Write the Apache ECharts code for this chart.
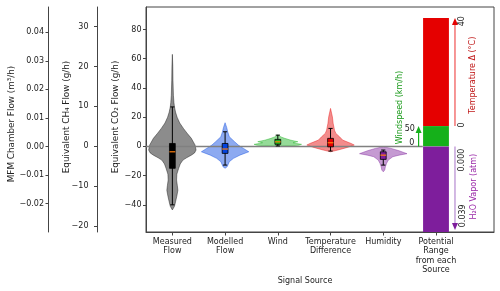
<!DOCTYPE html>
<html>
<head>
<meta charset="utf-8">
<script src="https://cdn.jsdelivr.net/npm/echarts@6.0.0/dist/echarts.min.js"></script>
<style>html,body{margin:0;padding:0;background:#fff}#c{width:500px;height:291px}</style>
</head>
<body>
<div id="c"></div>
<script>
// ---------- data ----------
const categories = ['Measured\nFlow', 'Modelled\nFlow', 'Wind', 'Temperature\nDifference', 'Humidity', 'Potential\nRange\nfrom each\nSource'];
const co2Ticks = [-40, -20, 0, 20, 40, 60, 80];
const ch4Ticks = [-20, -10, 0, 10, 20, 30];
const mfmTicks = [-0.02, -0.01, 0, 0.01, 0.02, 0.03, 0.04];

// violin profiles: [CO2 value (g/h), half width (category units)]
const measuredViolin = [[63, 0], [55, 0.008], [45, 0.012], [35, 0.02], [30, 0.03], [27, 0.04], [23.5, 0.06], [20, 0.09], [16, 0.14], [12.3, 0.21], [9, 0.28], [5.5, 0.36], [1, 0.43], [-2.5, 0.45], [-4.5, 0.42], [-6, 0.36], [-7.8, 0.27], [-9.4, 0.2], [-12, 0.15], [-15, 0.12], [-19, 0.085], [-23, 0.08], [-27, 0.095], [-30, 0.105], [-34, 0.085], [-38, 0.06], [-41, 0.04], [-43.5, 0]];
const modelledViolin = [[16.2, 0], [13, 0.03], [10, 0.05], [6.6, 0.08], [3.2, 0.18], [0.9, 0.25], [-1.4, 0.35], [-3.7, 0.45], [-6, 0.28], [-8.2, 0.16], [-10.5, 0.08], [-13.9, 0.04], [-15, 0]];
const windViolin = [[7.9, 0], [6.5, 0.06], [5.5, 0.13], [4.2, 0.25], [3.2, 0.38], [2.5, 0.29], [2, 0.35], [1.4, 0.45], [0.8, 0.4], [0.3, 0.2], [0.1, 0]];
const tempViolin = [[26, 0], [20.2, 0.035], [15.7, 0.05], [11.1, 0.075], [8.9, 0.1], [6.6, 0.17], [4.3, 0.23], [2, 0.39], [0.9, 0.45], [-0.7, 0.32], [-2.5, 0.14], [-3.7, 0]];
const humidityViolin = [[-0.2, 0], [-1.4, 0.15], [-3, 0.3], [-5, 0.45], [-6, 0.3], [-7.1, 0.18], [-9.4, 0.095], [-11.6, 0.063], [-14, 0.04], [-16.2, 0.028], [-17.4, 0]];
const violins = [measuredViolin, modelledViolin, windViolin, tempViolin, humidityViolin];

// box statistics
const boxLow = [-40, -12.8, 0.3, -3.2, -12.8];
const boxQ1 = [-15, -4.8, 1.4, -0.3, -8.9];
const boxMedian = [-3.7, -1.8, 3.1, 2.5, -6];
const boxQ3 = [2.0, 2.0, 4.8, 5.5, -3.7];
const boxHigh = [27, 10, 7.7, 12.3, -2.5];

const seriesColors = ['#000000', '#0343df', '#15b01a', '#e50000', '#7e1e9c'];

// potential range column (wind, temperature, humidity)
const rangeLow = [0, 13.9, -60];
const rangeHigh = [13.9, 87.9, 0];
const rangeColors = ['#15b01a', '#e50000', '#7e1e9c'];

// arrows
const arrowX = [4.67, 5.36, 5.36];
const arrowFrom = [0, 13.9, 0];
const arrowTo = [13.9, 87.9, -57.2];
const arrowLineColors = ['#15b01a', '#f05050', '#b58ad0'];
const arrowHeadColors = ['#15b01a', '#e50000', '#7e1e9c'];

// annotation texts
const annotText = ['40', '0', 'Temperature Δ (°C)', '50', '0', 'Windspeed (km/h)', '0.000', '0.039', 'H₂O Vapor (atm)'];
const annotX = [5.49, 5.49, 5.70, 4.60, 4.59, 4.32, 5.49, 5.51, 5.72];
const annotY = [85.7, 14.6, 48.7, 11.8, 2.6, 26.6, -9.4, -47.5, -27.6];
const annotRot = [1, 1, 1, 0, 0, 1, 1, 1, 1];
const annotColors = ['#222', '#222', '#c01818', '#222', '#222', '#1a9a1a', '#222', '#222', '#9a28a8'];

const zeroLine = [[-0.5, 0], [4.75, 0]];

// ---------- chart ----------
const FONT = 'DejaVu Sans';
const AX = '#444';
const minus = v => String(v).replace('-', '\u2212');

const chart = echarts.init(document.getElementById('c'));

function yAx(min, max, ticks, offset, margin, fmt) {
  return {
    type: 'value', min: min, max: max, position: 'left', offset: offset,
    axisLine: { show: true, onZero: false, lineStyle: { color: AX, width: 1 } },
    axisTick: { show: true, customValues: ticks, length: 3, lineStyle: { color: AX } },
    axisLabel: { customValues: ticks, formatter: fmt, fontSize: 8, fontFamily: FONT, color: '#222', margin: margin },
    splitLine: { show: false }
  };
}

const option = {
  animation: false,
  grid: { left: 146, right: 6, top: 7, bottom: 59, show: true, borderColor: AX, borderWidth: 1 },
  xAxis: {
    type: 'value', min: -0.5, max: 6.1,
    axisLine: { show: true, onZero: false, lineStyle: { color: AX } },
    splitLine: { show: false },
    axisTick: { show: true, customValues: [0, 1, 2, 3, 4, 5], length: 3.5, lineStyle: { color: AX } },
    axisLabel: { customValues: [0, 1, 2, 3, 4, 5], formatter: v => categories[Math.round(v)], fontSize: 8, lineHeight: 9.5, fontFamily: FONT, color: '#222', margin: 5 }
  },
  yAxis: [
    yAx(-58.6, 95.4, co2Ticks, 0, 4.5, v => minus(v)),
    yAx(-21.5, 34.9, ch4Ticks, 49, 8.5, v => minus(v)),
    yAx(-0.0300, 0.0489, mfmTicks, 97.5, 4.5, v => minus(v.toFixed(2)))
  ],
  graphic: [
    { type: 'text', x: 12, y: 124, rotation: Math.PI / 2, style: { text: 'MFM Chamber Flow (m³/h)', font: '8.8px ' + FONT, fill: '#222', align: 'center', verticalAlign: 'middle' } },
    { type: 'text', x: 67, y: 117, rotation: Math.PI / 2, style: { text: 'Equivalent CH₄ Flow (g/h)', font: '8.8px ' + FONT, fill: '#222', align: 'center', verticalAlign: 'middle' } },
    { type: 'text', x: 116, y: 117, rotation: Math.PI / 2, style: { text: 'Equivalent CO₂ Flow (g/h)', font: '8.8px ' + FONT, fill: '#222', align: 'center', verticalAlign: 'middle' } },
    { type: 'text', x: 305, y: 281, style: { text: 'Signal Source', font: '8px ' + FONT, fill: '#222', align: 'center', verticalAlign: 'middle' } }
  ],
  series: [
    {
      type: 'custom', name: 'ranges', z: 1, clip: true,
      data: rangeLow.map((v, i) => [5, v, rangeHigh[i]]),
      encode: { x: 0, y: [1, 2] },
      renderItem: (params, api) => {
        const i = params.dataIndex;
        const p1 = api.coord([5 - 0.245, rangeHigh[i]]);
        const p2 = api.coord([5 + 0.245, rangeLow[i]]);
        return { type: 'rect', shape: { x: p1[0], y: p1[1], width: p2[0] - p1[0], height: p2[1] - p1[1] }, style: { fill: rangeColors[i] } };
      }
    },
    {
      type: 'custom', name: 'violins', z: 2,
      data: violins.map((p, i) => [i, 0]),
      encode: { x: 0, y: 1 },
      renderItem: (params, api) => {
        const i = params.dataIndex;
        const prof = violins[i];
        const pts = [];
        prof.forEach(d => pts.push(api.coord([i + d[1], d[0]])));
        for (let k = prof.length - 1; k >= 0; k--) pts.push(api.coord([i - prof[k][1], prof[k][0]]));
        const c = seriesColors[i];
        return { type: 'polygon', shape: { points: pts }, style: { fill: echarts.color.modifyAlpha(c, 0.45), stroke: echarts.color.modifyAlpha(c, 0.5), lineWidth: 0.8 } };
      }
    },
    {
      type: 'line', name: 'zero', z: 3, data: zeroLine, symbol: 'none', silent: true,
      lineStyle: { color: '#808080', width: 1.5 }
    },
    {
      type: 'custom', name: 'boxes', z: 4,
      data: boxLow.map((v, i) => [i, v, boxQ1[i], boxMedian[i], boxQ3[i], boxHigh[i]]),
      encode: { x: 0, y: [1, 2, 3, 4, 5] },
      renderItem: (params, api) => {
        const i = params.dataIndex;
        const x = api.value(0);
        const lo = api.coord([x, api.value(1)]);
        const hi = api.coord([x, api.value(5)]);
        const hb = 0.055, hc = 0.04;
        const b1 = api.coord([x - hb, api.value(4)]);
        const b2 = api.coord([x + hb, api.value(2)]);
        const m1 = api.coord([x - hb, api.value(3)]);
        const m2 = api.coord([x + hb, api.value(3)]);
        const cl = api.coord([x - hc, 0])[0], cr = api.coord([x + hc, 0])[0];
        const ln = { stroke: '#000', lineWidth: 1 };
        return {
          type: 'group', children: [
            { type: 'line', shape: { x1: lo[0], y1: lo[1], x2: hi[0], y2: hi[1] }, style: ln },
            { type: 'line', shape: { x1: cl, y1: lo[1], x2: cr, y2: lo[1] }, style: ln },
            { type: 'line', shape: { x1: cl, y1: hi[1], x2: cr, y2: hi[1] }, style: ln },
            { type: 'rect', shape: { x: b1[0], y: b1[1], width: b2[0] - b1[0], height: b2[1] - b1[1] }, style: { fill: seriesColors[i], stroke: '#000', lineWidth: 0.8 } },
            { type: 'line', shape: { x1: m1[0], y1: m1[1], x2: m2[0], y2: m2[1] }, style: { stroke: '#ff7f0e', lineWidth: 1.2 } }
          ]
        };
      }
    },
    {
      type: 'custom', name: 'arrows', z: 5, clip: false,
      data: arrowX.map((v, i) => [v, arrowFrom[i], arrowTo[i]]),
      encode: { x: 0, y: [1, 2] },
      renderItem: (params, api) => {
        const i = params.dataIndex;
        const s = api.coord([arrowX[i], arrowFrom[i]]);
        const t = api.coord([arrowX[i], arrowTo[i]]);
        const dir = t[1] < s[1] ? 1 : -1; // 1: up
        const baseY = t[1] + dir * 7;
        return {
          type: 'group', children: [
            { type: 'line', shape: { x1: s[0], y1: s[1], x2: t[0], y2: baseY }, style: { stroke: arrowLineColors[i], lineWidth: 1.2 } },
            { type: 'polygon', shape: { points: [[t[0], t[1]], [t[0] - 3, baseY], [t[0] + 3, baseY]] }, style: { fill: arrowHeadColors[i] } }
          ]
        };
      }
    },
    {
      type: 'custom', name: 'annotations', z: 6, clip: false,
      data: annotX.map((v, i) => [v, annotY[i]]),
      encode: { x: 0, y: 1 },
      renderItem: (params, api) => {
        const i = params.dataIndex;
        const p = api.coord([annotX[i], annotY[i]]);
        const rot = annotRot[i] === 1;
        return {
          type: 'text', x: p[0], y: p[1], rotation: rot ? Math.PI / 2 : 0,
          style: { text: annotText[i], font: '8px ' + FONT, fill: annotColors[i], align: rot ? 'center' : 'right', verticalAlign: 'middle' }
        };
      }
    }
  ]
};
chart.setOption(option);
</script>
</body>
</html>
